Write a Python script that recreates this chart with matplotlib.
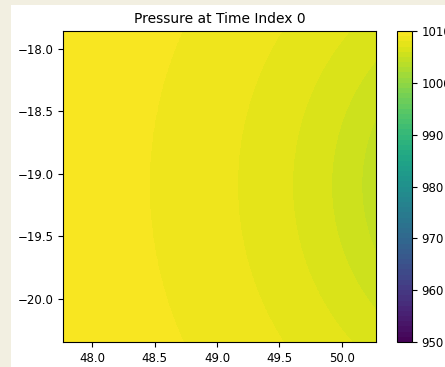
import numpy as np
import matplotlib
matplotlib.use("Agg")
import matplotlib.pyplot as plt
from matplotlib.patches import Rectangle

# Storm centre (lon, lat) sits just east of the plotted box
CENTER_LON = 51.5
CENTER_LAT = -19.09

# Radial pressure profile around the centre (distance in degrees, hPa)
radius_deg = [1.0, 1.342, 1.582, 1.894, 2.334, 3.038, 4.5]
pressure_hpa = [1003.8, 1005.0, 1006.0, 1007.0, 1008.0, 1009.0, 1009.9]

lon_range = [47.77, 50.27]
lat_range = [-20.344, -17.856]
xticks = [48.0, 48.5, 49.0, 49.5, 50.0]
yticks = [-20.0, -19.5, -19.0, -18.5, -18.0]
cbar_ticks = [950, 960, 970, 980, 990, 1000, 1010]
levels = np.arange(950, 1011, 1)

lon = np.linspace(lon_range[0], lon_range[1], 121)
lat = np.linspace(lat_range[0], lat_range[1], 121)
LON, LAT = np.meshgrid(lon, lat)
dist = np.hypot(LON - CENTER_LON, LAT - CENTER_LAT)
P = np.interp(dist, radius_deg, pressure_hpa)

fig = plt.figure(figsize=(4.45, 3.67), dpi=100, facecolor="#f2efe1")
fig.patches.append(Rectangle((11 / 445, 0), 1, 362 / 367, transform=fig.transFigure,
                             facecolor="white", edgecolor="none", zorder=-10))

ax = fig.add_axes([63.3 / 445, 25 / 367, 312.4 / 445, 311 / 367])
cs = ax.contourf(LON, LAT, P, levels=levels, cmap="viridis", vmin=950, vmax=1010)
ax.set_xlim(*lon_range)
ax.set_ylim(*lat_range)
ax.set_xticks(xticks)
ax.set_yticks(yticks)
ax.tick_params(labelsize=8.5)
ax.set_title("Pressure at Time Index 0", fontsize=10)

cax = fig.add_axes([396.5 / 445, 25 / 367, 15.5 / 445, 311 / 367])
cb = fig.colorbar(cs, cax=cax)
cb.set_ticks(cbar_ticks)
cb.ax.tick_params(labelsize=8.5)

fig.savefig("out.png", dpi=100, facecolor=fig.get_facecolor())
